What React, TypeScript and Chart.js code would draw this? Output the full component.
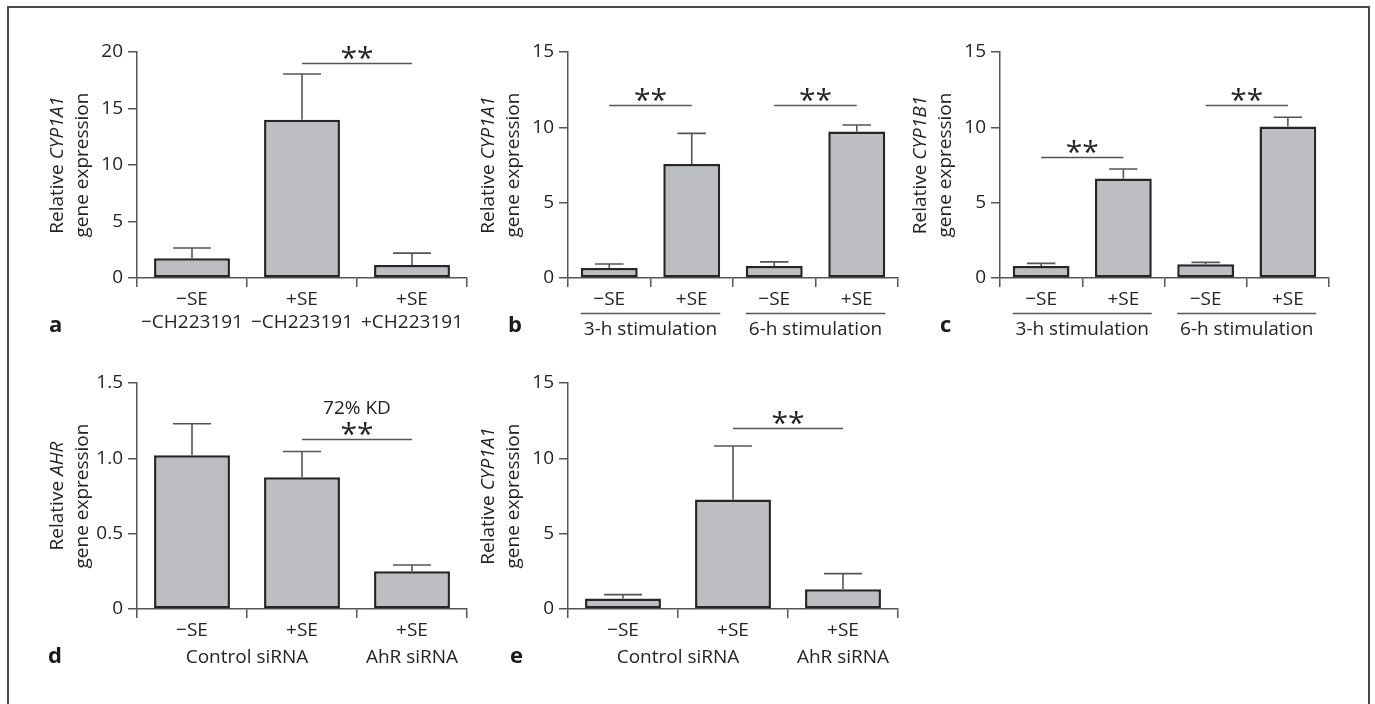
import React, { useEffect, useRef } from "react";
import { Chart, registerables } from "chart.js";
Chart.register(...registerables);

// ---------------- data ----------------
const catsA = [["−SE", "−CH223191"], ["+SE", "−CH223191"], ["+SE", "+CH223191"]];
const meanA = [1.75, 14.0, 1.15];
const semA = [0.9, 4.05, 1.05];
const yTicksA = [0, 5, 10, 15, 20];
const yLabelsA = ["0", "5", "10", "15", "20"];

const catsB = ["−SE", "+SE", "−SE", "+SE"];
const meanB = [0.66, 7.57, 0.8, 9.72];
const semB = [0.27, 2.03, 0.27, 0.43];
const yTicksB = [0, 5, 10, 15];
const yLabelsB = ["0", "5", "10", "15"];
const groupsB = ["3-h stimulation", "6-h stimulation"];

const catsC = ["−SE", "+SE", "−SE", "+SE"];
const meanC = [0.8, 6.6, 0.91, 10.05];
const semC = [0.17, 0.63, 0.13, 0.62];
const yTicksC = [0, 5, 10, 15];
const yLabelsC = ["0", "5", "10", "15"];
const groupsC = ["3-h stimulation", "6-h stimulation"];

const catsD = ["−SE", "+SE", "+SE"];
const meanD = [1.02, 0.875, 0.25];
const semD = [0.21, 0.17, 0.042];
const yTicksD = [0, 0.5, 1.0, 1.5];
const yLabelsD = ["0", "0.5", "1.0", "1.5"];
const groupsD = ["Control siRNA", "AhR siRNA"];

const catsE = ["−SE", "+SE", "+SE"];
const meanE = [0.7, 7.26, 1.31];
const semE = [0.255, 3.56, 1.04];
const yTicksE = [0, 5, 10, 15];
const yLabelsE = ["0", "5", "10", "15"];
const groupsE = ["Control siRNA", "AhR siRNA"];

// significance brackets: [fromIndex, toIndex, yValue]
const bracketsA = [[1, 2, 19.0]];
const bracketsB = [[0, 1, 11.5], [2, 3, 11.5]];
const bracketsC = [[0, 1, 8.0], [2, 3, 11.5]];
const bracketsD = [[1, 2, 1.13]];
const bracketsE = [[1, 2, 12.0]];
const noteD = "72% KD";

// ---------------- style ----------------
const FONT = "'Open Sans', 'Noto Sans', sans-serif";
const TEXT = "#242424";
const LINE = "#555555";
const BAR_FILL = "#bdbec1";
const BAR_EDGE = "#262626";
const FS = 19;

const PAD_L = 115;
const PAD_T = 30;
const PAD_R = 10;
const PAD_B = 75;
const Y_W = 50;
const X_H = 50;

type Group = { text: string; from: number; to: number; rule: boolean };
type PanelCfg = {
  letter: string;
  gene: string;
  cats: (string | string[])[];
  mean: number[];
  sem: number[];
  yTicks: number[];
  yLabels: string[];
  brackets: number[][];
  note?: string;
  groups: Group[];
  area: { l: number; t: number; r: number; b: number };
  letterX: number;
};

const panels: PanelCfg[] = [
  {
    letter: "a", gene: "CYP1A1", cats: catsA, mean: meanA, sem: semA,
    yTicks: yTicksA, yLabels: yLabelsA, brackets: bracketsA, groups: [],
    area: { l: 137, t: 52, r: 467, b: 278 }, letterX: 49,
  },
  {
    letter: "b", gene: "CYP1A1", cats: catsB, mean: meanB, sem: semB,
    yTicks: yTicksB, yLabels: yLabelsB, brackets: bracketsB,
    groups: [
      { text: groupsB[0], from: 0, to: 1, rule: true },
      { text: groupsB[1], from: 2, to: 3, rule: true },
    ],
    area: { l: 568, t: 52, r: 898, b: 278 }, letterX: 508,
  },
  {
    letter: "c", gene: "CYP1B1", cats: catsC, mean: meanC, sem: semC,
    yTicks: yTicksC, yLabels: yLabelsC, brackets: bracketsC,
    groups: [
      { text: groupsC[0], from: 0, to: 1, rule: true },
      { text: groupsC[1], from: 2, to: 3, rule: true },
    ],
    area: { l: 1000, t: 52, r: 1329, b: 278 }, letterX: 940,
  },
  {
    letter: "d", gene: "AHR", cats: catsD, mean: meanD, sem: semD,
    yTicks: yTicksD, yLabels: yLabelsD, brackets: bracketsD, note: noteD,
    groups: [
      { text: groupsD[0], from: 0, to: 1, rule: false },
      { text: groupsD[1], from: 2, to: 2, rule: false },
    ],
    area: { l: 137, t: 383, r: 467, b: 609 }, letterX: 48,
  },
  {
    letter: "e", gene: "CYP1A1", cats: catsE, mean: meanE, sem: semE,
    yTicks: yTicksE, yLabels: yLabelsE, brackets: bracketsE,
    groups: [
      { text: groupsE[0], from: 0, to: 1, rule: false },
      { text: groupsE[1], from: 2, to: 2, rule: false },
    ],
    area: { l: 568, t: 383, r: 898, b: 609 }, letterX: 510,
  },
];

function makeOverlay(cfg: PanelCfg) {
  return {
    id: "overlay" + cfg.letter,
    afterDatasetsDraw(chart: any) {
      const ctx = chart.ctx as CanvasRenderingContext2D;
      const xs = chart.scales.x;
      const ys = chart.scales.y;
      const meta = chart.getDatasetMeta(0);
      ctx.save();
      ctx.strokeStyle = LINE;
      ctx.lineWidth = 1.6;
      cfg.mean.forEach((m, i) => {
        const x = xs.getPixelForValue(i);
        const y0 = ys.getPixelForValue(m);
        const y1 = ys.getPixelForValue(m + cfg.sem[i]);
        const half = meta.data[i].width / 4;
        ctx.beginPath();
        ctx.moveTo(x, y0);
        ctx.lineTo(x, y1);
        ctx.moveTo(x - half, y1);
        ctx.lineTo(x + half, y1);
        ctx.stroke();
      });
      ctx.restore();
    },
    afterDraw(chart: any) {
      const ctx = chart.ctx as CanvasRenderingContext2D;
      const xs = chart.scales.x;
      const ys = chart.scales.y;
      const ca = chart.chartArea;
      const meta = chart.getDatasetMeta(0);
      ctx.save();
      // brackets
      cfg.brackets.forEach(([f, t, v]) => {
        const x1 = xs.getPixelForValue(f);
        const x2 = xs.getPixelForValue(t);
        const y = Math.round(ys.getPixelForValue(v)) + 0.5;
        ctx.strokeStyle = LINE;
        ctx.lineWidth = 1.5;
        ctx.beginPath();
        ctx.moveTo(x1, y);
        ctx.lineTo(x2, y);
        ctx.stroke();
        const cx = (x1 + x2) / 2;
        ctx.fillStyle = TEXT;
        ctx.font = `30px ${FONT}`;
        ctx.textAlign = "center";
        ctx.textBaseline = "alphabetic";
        ctx.fillText("**", cx, y + 4);
        if (cfg.note) {
          ctx.font = `${FS}px ${FONT}`;
          ctx.textBaseline = "middle";
          ctx.fillText(cfg.note, cx, y - 31);
        }
      });
      // group labels
      cfg.groups.forEach((g) => {
        const xa = xs.getPixelForValue(g.from);
        const xb = xs.getPixelForValue(g.to);
        const cx = (xa + xb) / 2;
        if (g.rule) {
          const left = meta.data[g.from].x - meta.data[g.from].width / 2;
          const right = meta.data[g.to].x + meta.data[g.to].width / 2;
          const y = ca.bottom + 35.5;
          ctx.strokeStyle = LINE;
          ctx.lineWidth = 1.5;
          ctx.beginPath();
          ctx.moveTo(left, y);
          ctx.lineTo(right, y);
          ctx.stroke();
        }
        ctx.fillStyle = TEXT;
        ctx.font = `${FS}px ${FONT}`;
        ctx.textAlign = "center";
        ctx.textBaseline = "alphabetic";
        ctx.fillText(g.text, cx, ca.bottom + (g.rule ? 57 : 54));
      });
      // panel letter
      ctx.fillStyle = "#1a1a1a";
      ctx.font = `bold 22px ${FONT}`;
      ctx.textAlign = "left";
      ctx.textBaseline = "alphabetic";
      ctx.fillText(cfg.letter, cfg.letterX - (cfg.area.l - PAD_L), ca.bottom + 54);
      // y-axis title (two lines, gene italic)
      const cy = (ca.top + ca.bottom) / 2;
      ctx.translate(ca.left - 79, cy);
      ctx.rotate(-Math.PI / 2);
      ctx.fillStyle = TEXT;
      ctx.textBaseline = "middle";
      ctx.textAlign = "left";
      const pre = "Relative ";
      ctx.font = `${FS}px ${FONT}`;
      const w1 = ctx.measureText(pre).width;
      ctx.font = `italic ${FS}px ${FONT}`;
      const w2 = ctx.measureText(cfg.gene).width;
      const start = -(w1 + w2) / 2;
      ctx.font = `${FS}px ${FONT}`;
      ctx.fillText(pre, start, 0);
      ctx.font = `italic ${FS}px ${FONT}`;
      ctx.fillText(cfg.gene, start + w1, 0);
      ctx.font = `${FS}px ${FONT}`;
      ctx.textAlign = "center";
      ctx.fillText("gene expression", 0, 24.5);
      ctx.restore();
    },
  };
}

function buildConfig(cfg: PanelCfg): any {
  const yMax = cfg.yTicks[cfg.yTicks.length - 1];
  return {
    type: "bar",
    data: {
      labels: cfg.cats,
      datasets: [
        {
          data: cfg.mean,
          backgroundColor: BAR_FILL,
          borderColor: BAR_EDGE,
          borderWidth: 2.5,
          borderSkipped: false,
          barPercentage: 0.69,
          categoryPercentage: 1,
        },
      ],
    },
    options: {
      animation: false,
      responsive: false,
      devicePixelRatio: 1,
      layout: { padding: { left: PAD_L - Y_W, top: PAD_T, right: PAD_R, bottom: PAD_B - X_H } },
      plugins: { legend: { display: false }, tooltip: { enabled: false } },
      scales: {
        x: {
          grid: { display: true, drawOnChartArea: false, drawTicks: true, tickLength: 9, color: LINE, lineWidth: 1.5, offset: true },
          border: { display: true, color: LINE, width: 1.5 },
          ticks: { color: TEXT, font: { family: FONT, size: FS }, padding: 1, maxRotation: 0, autoSkip: false },
          afterFit: (s: any) => { s.height = X_H; },
        },
        y: {
          min: 0,
          max: yMax,
          grid: { display: true, drawOnChartArea: false, drawTicks: true, tickLength: 9, color: LINE, lineWidth: 1.5 },
          border: { display: true, color: LINE, width: 1.5 },
          ticks: {
            color: TEXT,
            font: { family: FONT, size: FS },
            padding: 5,
            callback: (_v: any, i: number) => cfg.yLabels[i],
          },
          afterBuildTicks: (s: any) => { s.ticks = cfg.yTicks.map((v) => ({ value: v })); },
          afterFit: (s: any) => { s.width = Y_W; },
        },
      },
    },
    plugins: [makeOverlay(cfg)],
  };
}

function Panel({ cfg }: { cfg: PanelCfg }) {
  const ref = useRef<HTMLCanvasElement>(null);
  const w = cfg.area.r - cfg.area.l + PAD_L + PAD_R;
  const h = cfg.area.b - cfg.area.t + PAD_T + PAD_B;
  useEffect(() => {
    const chart = new Chart(ref.current as HTMLCanvasElement, buildConfig(cfg));
    return () => chart.destroy();
  }, [cfg]);
  return (
    <canvas
      ref={ref}
      width={w}
      height={h}
      style={{ position: "absolute", left: cfg.area.l - PAD_L, top: cfg.area.t - PAD_T, width: w, height: h }}
    />
  );
}

export default function App() {
  return (
    <div style={{ position: "absolute", left: 0, top: 0, width: 1375, height: 704, overflow: "hidden", background: "#fff" }}>
      <div style={{ position: "absolute", left: 7, top: 6, width: 1359, height: 720, border: "2px solid #4a4a4a" }} />
      {panels.map((p) => (
        <Panel key={p.letter} cfg={p} />
      ))}
    </div>
  );
}
